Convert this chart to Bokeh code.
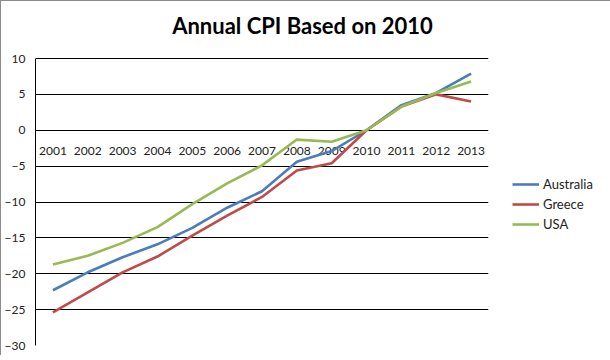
from bokeh.plotting import figure
from bokeh.models import FactorRange, Range1d, FixedTicker, Legend, LegendItem, Label, ColumnDataSource
from bokeh.core.properties import value
from bokeh.embed import file_html
from bokeh.resources import INLINE

years = ["2001", "2002", "2003", "2004", "2005", "2006", "2007",
         "2008", "2009", "2010", "2011", "2012", "2013"]
australia = [-22.3, -19.8, -17.7, -15.9, -13.6, -10.8, -8.5, -4.4, -2.9, 0.0, 3.5, 5.2, 7.9]
greece = [-25.4, -22.6, -19.8, -17.6, -14.7, -11.9, -9.3, -5.6, -4.6, 0.0, 3.3, 5.0, 4.0]
usa = [-18.7, -17.5, -15.7, -13.5, -10.3, -7.4, -4.9, -1.3, -1.6, 0.0, 3.3, 5.2, 6.8]
y_ticks = [-30, -25, -20, -15, -10, -5, 0, 5, 10]
title_text = "Annual CPI Based on 2010"

FONT = "Lato"

# plot area: 287 px for the value span, plus 57 px of headroom for the title
Y_MIN, Y_MAX = -30, 10
AREA_H, HEAD_H = 287, 57
y_top = Y_MAX + HEAD_H * (Y_MAX - Y_MIN) / AREA_H

p = figure(x_range=FactorRange(factors=years, range_padding=0),
           y_range=Range1d(Y_MIN, y_top),
           width=594, height=354,
           frame_width=453, frame_height=AREA_H + HEAD_H,
           min_border_left=30, min_border_right=0, min_border_top=0, min_border_bottom=10,
           output_backend="svg", toolbar_location=None)

p.title = None
# chart title centred on the whole chart (screen units from frame bottom-left)
p.add_layout(Label(x=267, y=AREA_H + HEAD_H - 24, x_units="screen", y_units="screen",
                   text=title_text, text_align="center", text_baseline="middle",
                   text_font=FONT, text_font_size="22px", text_font_style="bold",
                   text_color="#000000"))

p.xaxis.visible = False
p.xgrid.visible = False
p.ygrid.ticker = FixedTicker(ticks=y_ticks)
p.ygrid.grid_line_color = "#000000"
p.ygrid.grid_line_width = 1
p.yaxis.ticker = FixedTicker(ticks=y_ticks)
p.yaxis.bounds = (Y_MIN, Y_MAX)
p.yaxis.major_tick_out = 0
p.yaxis.major_tick_in = 0
p.yaxis.minor_tick_out = 0
p.yaxis.minor_tick_in = 0
p.yaxis.axis_line_color = "#000000"
p.yaxis.major_label_text_font = FONT
p.yaxis.major_label_text_font_size = "12px"
p.yaxis.major_label_text_color = "#222222"
p.yaxis.major_label_standoff = 10
p.outline_line_color = None
p.background_fill_color = "white"
p.border_fill_color = "white"

# category labels sit just under the zero line, where the axis crosses
src_lbl = ColumnDataSource(dict(x=years, y=[0] * len(years), t=years))
p.text(x="x", y="y", text="t", source=src_lbl, text_align="center",
       text_baseline="middle", y_offset=21, text_font=value(FONT),
       text_font_size="12px", text_color="#222222")

r1 = p.line(years, australia, line_color="#4A7EBB", line_width=2.6)
r2 = p.line(years, greece, line_color="#BE4B48", line_width=2.6)
r3 = p.line(years, usa, line_color="#98B954", line_width=2.6)

legend = Legend(items=[LegendItem(label="Australia", renderers=[r1]),
                       LegendItem(label="Greece", renderers=[r2]),
                       LegendItem(label="USA", renderers=[r3])],
                location=(24, 112), border_line_color=None,
                background_fill_alpha=0,
                glyph_width=27, glyph_height=10, label_standoff=4,
                spacing=2, padding=0, margin=0,
                label_text_font=FONT, label_text_font_size="13px",
                label_text_color="#222222", label_height=18)
p.add_layout(legend, "right")

p.styles = {"border-top": "1px solid #8c8c8c",
            "border-left": "1px solid #8c8c8c",
            "border-right": "1px solid #8c8c8c"}

open("out.html", "w").write(file_html(p, INLINE))
